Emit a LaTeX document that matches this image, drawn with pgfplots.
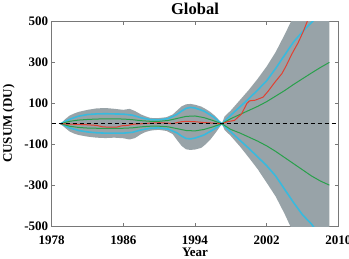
\documentclass[border=0pt]{standalone}
\usepackage{fontspec}
\setmainfont{Liberation Serif}
\usepackage{pgfplots}
\pgfplotsset{compat=1.18}
\usepgfplotslibrary{fillbetween}
\definecolor{bandgray}{RGB}{152,163,168}
\definecolor{mcyan}{RGB}{56,186,222}
\definecolor{mgreen}{RGB}{40,160,75}
\definecolor{mred}{RGB}{225,65,50}
\definecolor{axgray}{RGB}{120,120,120}
\begin{document}
\begin{tikzpicture}
\begin{axis}[
  scale only axis,
  width=286.6pt, height=204.5pt,
  xmin=1978, xmax=2010, ymin=-500, ymax=500,
  xtick={1978,1986,1994,2002,2010},
  xticklabels={1978,1986,1994,2002,2010},
  ytick={-500,-300,-100,100,300,500},
  yticklabels={-500,-300,-100,100,300,500},
  tick align=inside, tick pos=both,
  major tick length=3.5pt,
  axis line style={axgray},
  every tick/.style={axgray},
  ticklabel style={font=\fontsize{13}{14}\selectfont\bfseries},
  xticklabel style={anchor=base, yshift=-18.3pt, inner sep=0pt},
  title={Global},
  every axis title/.style={font=\fontsize{16.5}{18}\selectfont\bfseries, at={(axis description cs:0.5,1.035)}, anchor=base, inner sep=0pt},
  xlabel={Year},
  xlabel style={font=\fontsize{13}{14}\selectfont\bfseries, at={(axis description cs:0.5,-0.1467)}, anchor=base, inner sep=0pt},
  ylabel={CUSUM (DU)},
  ylabel style={font=\fontsize{13}{14}\selectfont\bfseries, at={(axis description cs:-0.1500,0.5)}, anchor=center, inner sep=0pt},
]
\addplot[name path=gup, draw=none] coordinates {
(1979,0) (1979.5,22) (1980,40) (1980.5,50) (1981,58) (1982,68) (1983,75) (1984,77) (1985,73) (1986,68) (1986.7,73) (1987.3,62) (1988,45) (1988.5,36) (1989,29) (1989.5,27) (1990,28) (1990.8,32) (1991.5,45) (1992,65) (1992.5,85) (1993,95) (1993.5,97) (1994,93) (1994.7,84) (1995.2,72) (1995.7,58) (1996.2,40) (1996.6,22) (1997,0) (1997.3,35) (1998,65) (1999,115) (2000,165) (2001,220) (2002,280) (2003,350) (2004,435) (2005,525) (2006,610) (2007,690) (2008,770) (2009,850)};
\addplot[name path=glo, draw=none] coordinates {
(1979,0) (1979.5,-20) (1980,-38) (1980.5,-48) (1981,-55) (1982,-63) (1983,-68) (1984,-70) (1985,-68) (1986,-71) (1986.7,-77) (1987.3,-70) (1988,-50) (1988.5,-40) (1989,-34) (1989.5,-31) (1990,-30) (1990.8,-35) (1991.5,-50) (1992,-80) (1992.5,-108) (1993,-125) (1993.5,-128) (1994,-126) (1994.7,-118) (1995.2,-100) (1995.7,-78) (1996.2,-50) (1996.6,-26) (1997,0) (1997.3,-30) (1998,-60) (1999,-110) (2000,-165) (2001,-222) (2002,-288) (2003,-355) (2004,-440) (2005,-535) (2006,-620) (2007,-700) (2008,-780) (2009,-860)};
\addplot[bandgray, draw=none] fill between[of=gup and glo];
\addplot[mcyan, line width=1.6pt] coordinates {
(1979,0) (1980,22) (1981,37) (1982,45) (1983,48) (1984,49) (1985,48) (1986,47) (1987,42) (1988,29) (1989,20) (1990,19) (1991,25) (1992,46) (1992.5,62) (1993,75) (1993.5,80) (1994,77) (1995,62) (1996,35) (1997,0) (1998,42) (1999,82) (2000,122) (2001,165) (2002,210) (2003,270) (2004,335) (2005,400) (2006,450) (2007,495) (2008,540) (2009,585)};
\addplot[mcyan, line width=1.6pt] coordinates {
(1979,0) (1980,-20) (1981,-33) (1982,-40) (1983,-44) (1984,-46) (1985,-46) (1986,-46) (1987,-42) (1988,-30) (1989,-22) (1990,-20) (1991,-26) (1992,-45) (1992.5,-60) (1993,-72) (1993.5,-74) (1994,-70) (1995,-55) (1996,-30) (1997,0) (1998,-40) (1999,-80) (2000,-120) (2001,-162) (2002,-205) (2003,-255) (2004,-320) (2005,-385) (2006,-445) (2007,-490) (2008,-550) (2009,-610)};
\addplot[mgreen, line width=1pt] coordinates {
(1979,0) (1980,12) (1981,18) (1982,21) (1983,23) (1984,24) (1985,24) (1986,23) (1987,20) (1988,15) (1989,12) (1990,12) (1991,16) (1992,26) (1993,36) (1994,38) (1995,30) (1996,16) (1997,0) (1998,25) (1999,45) (2000,65) (2001,85) (2002,108) (2003,135) (2004,162) (2005,192) (2006,220) (2007,248) (2008,275) (2009,300)};
\addplot[mgreen, line width=1pt] coordinates {
(1979,0) (1980,-12) (1981,-18) (1982,-21) (1983,-22) (1984,-23) (1985,-23) (1986,-22) (1987,-20) (1988,-15) (1989,-12) (1990,-12) (1991,-15) (1992,-24) (1993,-33) (1994,-35) (1995,-28) (1996,-15) (1997,0) (1998,-28) (1999,-45) (2000,-65) (2001,-85) (2002,-108) (2003,-135) (2004,-165) (2005,-195) (2006,-225) (2007,-255) (2008,-280) (2009,-300)};
\addplot[mred, line width=1pt] coordinates {
(1979,0) (1980,-2) (1981,-3) (1982,-5) (1983,-8) (1983.7,-15) (1984.5,-17) (1985.3,-16) (1985.8,-10) (1986.5,-8) (1987,-3) (1988,0) (1989,3) (1990,5) (1991,3) (1991.5,0) (1992,6) (1992.5,10) (1993,12) (1994,10) (1995,6) (1996,3) (1997,0) (1997.7,11) (1998.4,16) (1999.2,48) (1999.8,100) (2000.1,112) (2000.7,115) (2001.6,130) (2002.2,161) (2002.9,202) (2003.7,245) (2004.2,285) (2004.8,340) (2005.5,395) (2006.1,452) (2006.6,508) (2007,560)};
\addplot[black, line width=0.7pt, dash pattern=on 4pt off 3pt] coordinates {(1978,0) (2010,0)};
\end{axis}
\pgfresetboundingbox
\useasboundingbox (-51.7pt,-32pt) rectangle (297.3pt,226pt);
\end{tikzpicture}
\end{document}
